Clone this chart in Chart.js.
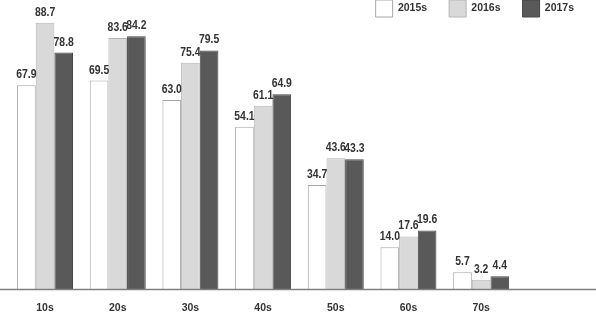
<!DOCTYPE html>
<html>
<head>
<meta charset="utf-8">
<script src="https://cdn.jsdelivr.net/npm/chart.js@4"></script>
<style>
  html, body { margin: 0; padding: 0; background: #fff; }
  #wrap { width: 596px; height: 325px; }
</style>
</head>
<body>
<div id="wrap"><canvas id="ageChart"></canvas></div>
<script>
// ── DATA ─────────────────────────────────────────────
const categories = ['10s', '20s', '30s', '40s', '50s', '60s', '70s'];
const seriesNames = ['2015s', '2016s', '2017s'];
const values2015 = [67.9, 69.5, 63.0, 54.1, 34.7, 14.0, 5.7];
const values2016 = [88.7, 83.6, 75.4, 61.1, 43.6, 17.6, 3.2];
const values2017 = [78.8, 84.2, 79.5, 64.9, 43.3, 19.6, 4.4];

const FONT = "'Liberation Sans', Arial, sans-serif";

// value labels above each bar + long baseline
const barLabels = {
    id: 'barLabels',
    afterDatasetsDraw(chart) {
        const ctx = chart.ctx;
        const y0 = chart.scales.y.getPixelForValue(0);

        ctx.save();
        ctx.strokeStyle = '#7f7f7f';
        ctx.lineWidth = 1.5;
        ctx.beginPath();
        ctx.moveTo(0, y0);
        ctx.lineTo(chart.width, y0);
        ctx.stroke();

        // condensed-looking bold labels
        ctx.font = 'bold 13px ' + FONT;
        ctx.fillStyle = '#333';
        ctx.textAlign = 'center';
        ctx.textBaseline = 'alphabetic';
        const sx = 0.8;
        chart.data.datasets.forEach((ds, i) => {
            chart.getDatasetMeta(i).data.forEach((bar, j) => {
                ctx.save();
                ctx.translate(bar.x, bar.y - 7);
                ctx.scale(sx, 1);
                ctx.fillText(ds.data[j].toFixed(1), 0, 0);
                ctx.restore();
            });
        });
        ctx.restore();
    }
};

new Chart(document.getElementById('ageChart'), {
    type: 'bar',
    data: {
        labels: categories,
        datasets: [
            {
                label: seriesNames[0],
                data: values2015,
                backgroundColor: '#ffffff',
                borderColor: '#a6a6a6',
                borderWidth: 1
            },
            {
                label: seriesNames[1],
                data: values2016,
                backgroundColor: '#d9d9d9',
                borderColor: '#b5b5b5',
                borderWidth: 1
            },
            {
                label: seriesNames[2],
                data: values2017,
                backgroundColor: '#595959',
                borderColor: '#474747',
                borderWidth: 1
            }
        ]
    },
    options: {
        responsive: true,
        maintainAspectRatio: false,
        animation: false,
        layout: { padding: { left: 8.7, top: -22, bottom: -1, right: 0 } },
        datasets: {
            bar: { categoryPercentage: 0.77, barPercentage: 1.0, clip: false }
        },
        plugins: {
            legend: {
                position: 'top',
                align: 'end',
                labels: {
                    boxWidth: 17,
                    boxHeight: 17,
                    padding: 22,
                    color: '#333',
                    font: { family: FONT, size: 10.5, weight: 'bold' }
                }
            },
            tooltip: { enabled: false }
        },
        scales: {
            x: {
                grid: { display: false, drawTicks: false },
                border: { display: false },
                ticks: {
                    padding: 12,
                    color: '#333',
                    font: { family: FONT, size: 10.5, weight: 'bold' }
                }
            },
            y: {
                display: false,
                min: 0,
                max: 87.3
            },
            y2: {
                position: 'right',
                grid: { display: false, drawTicks: false },
                border: { display: false },
                ticks: { display: false },
                afterFit: (scale) => { scale.width = 78.5; }
            }
        }
    },
    plugins: [barLabels]
});
</script>
</body>
</html>
